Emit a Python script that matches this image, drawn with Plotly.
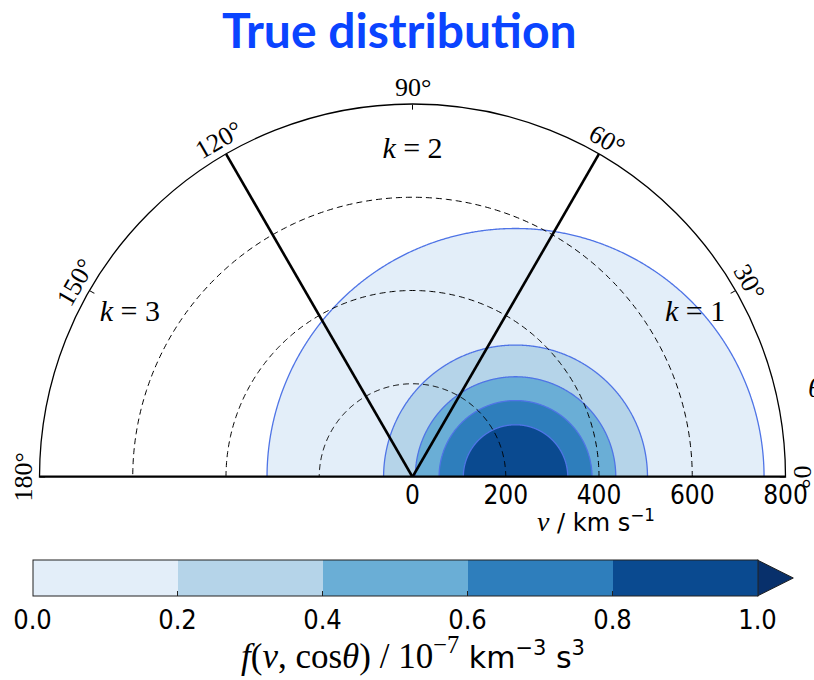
import numpy as np
import plotly.graph_objects as go

# ---------------- data ----------------
contour_levels = [0.0, 0.2, 0.4, 0.6, 0.8]          # lower bound of each filled band
contour_radii = [533, 283, 215, 164, 112]           # km/s, radius of iso-contour around drift
drift_velocity = 221                                # km/s, centre of the distribution
band_colors = ["#e3eef9", "#b5d4e9", "#6aaed6", "#2e7ebc", "#0a4a90"]
extend_color = "#08306b"
cbar_ticks = [0.0, 0.2, 0.4, 0.6, 0.8, 1.0]
radial_ticks = [0, 200, 400, 600, 800]
radial_grid = [200, 400, 600]
angle_ticks = [0, 30, 60, 90, 120, 150, 180]
sector_bounds = [60, 120]                           # deg, k-sector dividers
sector_label_angles = [30, 90, 150]
sector_label_text = ["k = 1", "k = 2", "k = 3"]
sector_label_r = 700
v_max = 800

# ---------------- geometry of the figure ----------------
W, H = 814, 680
cx, cy, Rpx = 412.5, 477.0, 373.0      # polar origin and outer radius in pixels
CONTOUR_LINE = "#4f74e6"
SERIF = "Liberation Serif, DejaVu Serif, serif"
SANS = "DejaVu Sans Condensed, DejaVu Sans, sans-serif"

fig = go.Figure()

# filled contour bands (outermost first)
phi = np.linspace(0, np.pi, 721)
for lvl, rad, col in zip(contour_levels, contour_radii, band_colors):
    x = drift_velocity + rad * np.cos(phi)
    y = rad * np.sin(phi)
    r = np.hypot(x, y)
    th = np.degrees(np.arctan2(y, x))
    fig.add_trace(go.Scatterpolar(
        r=r, theta=th, mode="lines", fill="toself", fillcolor=col,
        line=dict(color=CONTOUR_LINE, width=1.3), hoverinfo="skip",
        showlegend=False))

# dashed radial grid circles drawn over the fills
theta_grid = np.linspace(0, 180, 361)
for g in radial_grid:
    fig.add_trace(go.Scatterpolar(
        r=np.full_like(theta_grid, g), theta=theta_grid, mode="lines",
        line=dict(color="black", width=1, dash="6px,4px"),
        showlegend=False, hoverinfo="skip"))

# thick sector boundaries: baseline (0 and 180 deg) and rays
fig.add_trace(go.Scatterpolar(
    r=[v_max, 0, v_max], theta=[180, 180, 0], mode="lines",
    line=dict(color="black", width=3.2), showlegend=False, hoverinfo="skip"))
for ang in sector_bounds:
    fig.add_trace(go.Scatterpolar(
        r=[0, v_max], theta=[ang, ang], mode="lines",
        line=dict(color="black", width=2.6), showlegend=False, hoverinfo="skip"))

# k labels
fig.add_trace(go.Scatterpolar(
    r=[sector_label_r] * len(sector_label_angles), theta=sector_label_angles,
    mode="text",
    text=[t.replace("k", "<i>k</i>") for t in sector_label_text],
    textfont=dict(family=SERIF, size=30, color="black"),
    showlegend=False, hoverinfo="skip"))

# dummy trace for the colorbar
n = len(band_colors)
cscale = []
for i, c in enumerate(band_colors):
    cscale.append([i / n, c])
    cscale.append([(i + 1) / n, c])
fig.add_trace(go.Scatterpolar(
    r=[None], theta=[None], mode="markers",
    marker=dict(color=[0], cmin=0, cmax=1, colorscale=cscale, showscale=True,
                colorbar=dict(
                    orientation="h", lenmode="fraction", len=724.6 / W,
                    x=395.0 / W, xanchor="center", y=1 - 560 / H, yanchor="top",
                    thickness=36, thicknessmode="pixels", xpad=0, ypad=0,
                    outlinewidth=1, outlinecolor="#222",
                    tickvals=cbar_ticks, ticktext=[f"{t:.1f}" for t in cbar_ticks],
                    ticks="inside", ticklen=5, tickcolor="#222",
                    tickfont=dict(family=SANS, size=27, color="black"))),
    showlegend=False, hoverinfo="skip"))

fig.update_layout(
    width=W, height=H, margin=dict(l=0, r=0, t=0, b=0),
    paper_bgcolor="white", showlegend=False,
    polar=dict(
        domain=dict(x=[(cx - Rpx) / W, (cx + Rpx) / W], y=[1 - cy / H, 1 - (cy - Rpx) / H]),
        sector=[0, 180], bgcolor="white",
        radialaxis=dict(
            range=[0, v_max], tickvals=radial_ticks, ticktext=[str(t) for t in radial_ticks],
            showline=False, ticks="", angle=0, side="clockwise", tickangle=0,
            showgrid=False,
            tickfont=dict(family=SANS, size=26, color="black"), layer="above traces"),
        angularaxis=dict(
            tickvals=angle_ticks, showticklabels=False, ticks="inside", ticklen=5,
            tickcolor="black", showgrid=False, showline=True, linecolor="black",
            linewidth=1.3, direction="counterclockwise", rotation=0,
            layer="above traces"),
    ),
)

annotations = []
# angular tick labels, rotated tangentially
for a in angle_ticks:
    rr = Rpx + 16
    px = cx + rr * np.cos(np.radians(a))
    py = cy - rr * np.sin(np.radians(a))
    annotations.append(dict(
        x=px / W, y=1 - py / H, xref="paper", yref="paper", showarrow=False,
        text=f"{a}°", textangle=90 - a, xanchor="center", yanchor="middle",
        font=dict(family=SERIF, size=26, color="black")))
# theta axis label (partially cut at the right edge)
annotations.append(dict(
    x=806 / W, y=1 - 387 / H, xref="paper", yref="paper", showarrow=False,
    text="<i>θ</i>", xanchor="left", yanchor="middle",
    font=dict(family=SERIF, size=28, color="black")))
# radial axis title
annotations.append(dict(
    x=596 / W, y=1 - 521 / H, xref="paper", yref="paper", showarrow=False,
    text='<span style="font-family:Liberation Serif; font-size:28px"><i>v</i></span> / km s<sup>−1</sup>',
    xanchor="center", yanchor="middle",
    font=dict(family="DejaVu Sans", size=24, color="black")))
# colorbar title
annotations.append(dict(
    x=413 / W, y=1 - 653 / H, xref="paper", yref="paper", showarrow=False,
    text=('<span style="font-family:Liberation Serif; font-size:35px"><i>f</i>(<i>v</i>, cos<i>θ</i>) / 10<sup>−7</sup></span>'
          ' km<sup>−3</sup> s<sup>3</sup>'),
    xanchor="center", yanchor="middle",
    font=dict(family="DejaVu Sans", size=30, color="black")))
# title
annotations.append(dict(
    x=399 / W, y=1 - 30 / H, xref="paper", yref="paper", showarrow=False,
    text="<b>True distribution</b>", xanchor="center", yanchor="middle",
    font=dict(family="Lato", size=48, color="#0a44ff")))
fig.update_layout(annotations=annotations)

# extend-max triangle of the colorbar
x0, x1 = 757.3 / W, 793.3 / W
yt, ym, yb = 1 - 560 / H, 1 - 578 / H, 1 - 596 / H
fig.add_shape(type="path", xref="paper", yref="paper",
              path=f"M {x0},{yt} L {x1},{ym} L {x0},{yb} Z",
              fillcolor=extend_color, line=dict(color="#222", width=1))

fig.write_html("out.html", config={"displayModeBar": False},
               post_script="document.body.style.margin='0px';document.body.style.overflow='hidden';")
